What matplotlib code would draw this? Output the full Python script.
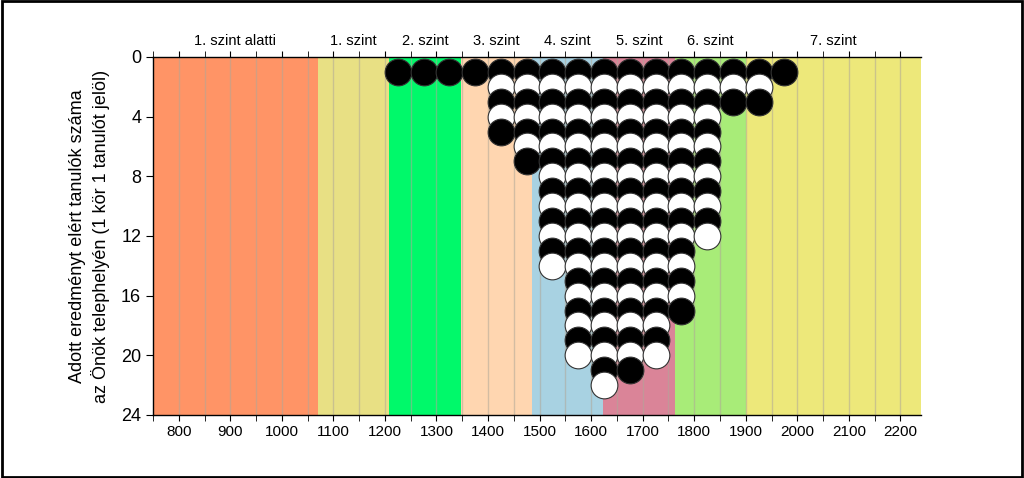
import matplotlib.pyplot as plt
from matplotlib.patches import Rectangle

plt.rcParams['font.family'] = ['Liberation Sans', 'DejaVu Sans']

# level bands (score ranges) and colours
band_edges = [750, 1070, 1208, 1347, 1485, 1624, 1763, 1901, 2240]
band_labels = ['1. szint alatti', '1. szint', '2. szint', '3. szint',
               '4. szint', '5. szint', '6. szint', '7. szint']
band_colors = ['#FF9466', '#E8E084', '#00F96A', '#FFD6B0',
               '#A8D2E2', '#DA8498', '#A8EC78', '#EDE87A']

# number of students per score column
scores = [1225, 1275, 1325, 1375, 1425, 1475, 1525, 1575,
          1625, 1675, 1725, 1775, 1825, 1875, 1925, 1975]
counts = [1, 1, 1, 1, 5, 7, 14, 20, 22, 21, 20, 17, 12, 3, 3, 1]

fig = plt.figure(figsize=(10.24, 4.78), dpi=100)
ax = fig.add_axes([0.1494, 0.1318, 0.75, 0.749])

# coloured level bands
for lo, hi, c in zip(band_edges[:-1], band_edges[1:], band_colors):
    ax.axvspan(lo, hi, color=c, lw=0, zorder=0)

# vertical grid every 50 points
for gx in range(800, 2240, 50):
    ax.axvline(gx, color='#B0A898', lw=1.0, alpha=0.55, zorder=1)

# one circle per student, lower circles drawn on top
for x, n in zip(scores, counts):
    for k in range(1, n + 1):
        fc = 'black' if k % 2 == 1 else 'white'
        ax.scatter([x], [k], s=370, c=fc, edgecolors='#333333',
                   linewidths=0.8, zorder=2 + k, clip_on=False)

ax.set_xlim(750, 2240)
ax.set_ylim(24, 0)
ax.set_yticks(range(0, 25, 4))
ax.set_xticks(range(800, 2201, 100))
ax.set_xticks(range(750, 2240, 50), minor=True)
ax.tick_params(axis='x', which='both', direction='out', length=4,
               top=True, labeltop=False, labelsize=11)
ax.tick_params(axis='y', direction='out', length=5, labelsize=13)
ax.spines['right'].set_visible(False)
for s in ['left', 'top', 'bottom']:
    ax.spines[s].set_linewidth(1.0)

# level names above the plot
for lo, hi, lab in zip(band_edges[:-1], band_edges[1:], band_labels):
    ax.text((lo + hi) / 2, -0.6, lab, ha='center', va='bottom', fontsize=10.5)

ax.set_ylabel('Adott eredményt elért tanulók száma\naz Önök telephelyén (1 kör 1 tanulót jelöl)',
              fontsize=13, labelpad=8, linespacing=1.3)

# frame around the whole picture
fig.patches.append(Rectangle((0.002, 0.003), 0.996, 0.994, transform=fig.transFigure,
                             fill=False, edgecolor='black', lw=2))

fig.savefig('out.png', dpi=100)
